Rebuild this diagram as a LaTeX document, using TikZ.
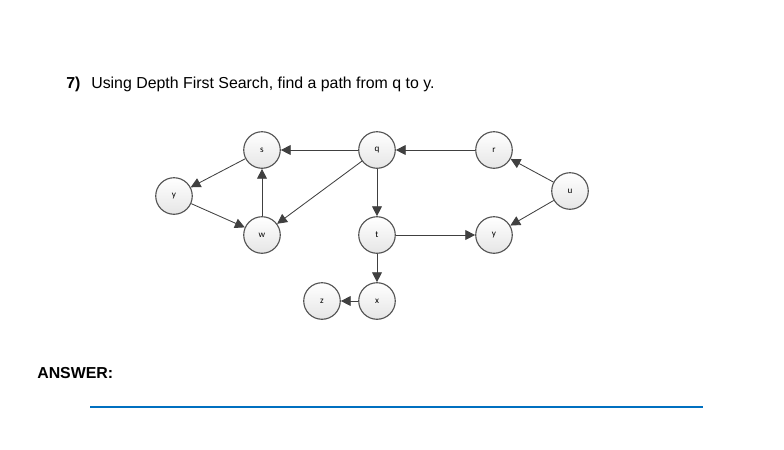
\documentclass[tikz,border=0pt]{standalone}
\usepackage{fontspec}
\setmainfont{Liberation Sans}
\newfontfamily\vertexfont{Carlito}
\usepackage{xcolor}
\usetikzlibrary{arrows.meta, positioning}

\definecolor{edgegray}{HTML}{404040}
\definecolor{rulecolor}{HTML}{0070C0}

\begin{document}
\begin{tikzpicture}[
        x=0.025cm, y=-0.025cm,
        vertex/.style={circle, draw=edgegray!90, thick, minimum size=26pt, inner sep=0pt,
                       top color=white, bottom color=gray!20, font=\vertexfont\fontsize{6.5}{7}\selectfont},
        arr/.style={-{Triangle[length=7pt, width=7pt]}, edgegray, semithick},
    ]
        \useasboundingbox (0,0) rectangle (784,449);
        % heading
        \node[anchor=base west, inner sep=0pt, font=\bfseries\fontsize{11.3}{13}\selectfont] (num) at (66,88) {7)};
        \node[anchor=base west, inner sep=0pt, font=\fontsize{11.3}{13}\selectfont] (task) at (91,88)
            {Using Depth First Search, find a path from q to y.};
        % graph
        \node[vertex] (s)  at (262,150) {s};
        \node[vertex] (q)  at (377,150) {q};
        \node[vertex] (r)  at (494,150) {r};
        \node[vertex] (y1) at (174,196) {y};
        \node[vertex] (u)  at (570,191) {u};
        \node[vertex] (w)  at (262,235) {w};
        \node[vertex] (t)  at (377,235) {t};
        \node[vertex] (y2) at (494,235) {y};
        \node[vertex] (z)  at (322,301) {z};
        \node[vertex] (x)  at (377,301) {x};
        \draw[arr] (q) -- (s);
        \draw[arr] (r) -- (q);
        \draw[arr] (u) -- (r);
        \draw[arr] (u) -- (y2);
        \draw[arr] (q) -- (t);
        \draw[arr] (t) -- (y2);
        \draw[arr] (t) -- (x);
        \draw[arr] (x) -- (z);
        \draw[arr] (q) -- (w);
        \draw[arr] (w) -- (s);
        \draw[arr] (s) -- (y1);
        \draw[arr] (y1) -- (w);
        % answer
        \node[anchor=base west, inner sep=0pt, font=\bfseries\fontsize{11.3}{13}\selectfont] (ans) at (37,378) {ANSWER:};
        \coordinate (la) at (90,407);
        \coordinate (lb) at (703,407);
        \draw[rulecolor, line width=0.9pt] (la) -- (lb);
\end{tikzpicture}
\end{document}
